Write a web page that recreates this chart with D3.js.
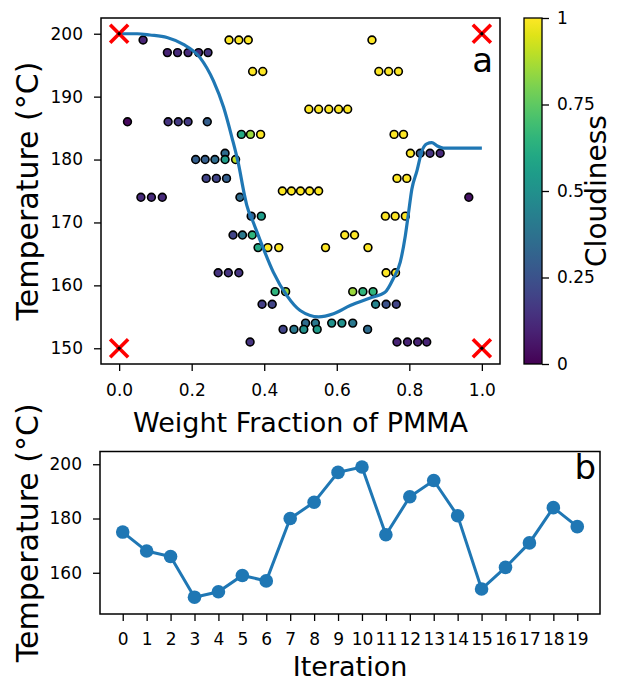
<!DOCTYPE html>
<html>
<head>
<meta charset="utf-8">
<script src="https://cdn.jsdelivr.net/npm/d3@7"></script>
<style>
  html, body { margin: 0; padding: 0; background: #fff; }
  svg { display: block; }
  text { font-family: "DejaVu Sans", sans-serif; fill: #000; }
</style>
</head>
<body>
<svg id="chart" width="634" height="681"></svg>
<script>
// ---------------- DATA ----------------
// Temperature tested at each iteration (panel b)
const iterations = d3.range(20);
const iterationTemp = [175,168,166,151,153,159,157,180,186,197,199,174,188,194,181,154,162,171,184,177];

// Sampled points (panel a): weight fraction, temperature, cloudiness
const pointWF = [
  0.066,0.303,0.330,0.356,0.697,
  0.133,0.161,0.190,0.219,0.245,
  0.368,0.396,0.716,0.743,0.770,
  0.523,0.550,0.578,0.605,0.630,
  0.023,0.135,0.163,0.190,0.243,
  0.337,0.362,0.390,0.758,0.784,
  0.292,0.803,0.830,0.857,0.885,
  0.211,0.237,0.264,0.292,0.321,
  0.240,0.268,0.296,0.766,0.793,
  0.450,0.475,0.500,0.525,0.550,
  0.060,0.089,0.119,0.333,0.964,
  0.364,0.392,0.734,0.761,0.789,
  0.314,0.340,0.367,0.622,0.649,
  0.383,0.410,0.440,0.569,0.686,
  0.273,0.301,0.330,0.736,0.762,
  0.430,0.459,0.644,0.672,0.700,
  0.394,0.422,0.707,0.736,0.764,
  0.514,0.541,0.586,0.614,0.644,
  0.452,0.482,0.509,0.546,0.685,
  0.361,0.766,0.795,0.823,0.848
];
const pointTemp = [
  199,199,199,199,199,
  197,197,197,197,197,
  194,194,194,194,194,
  188,188,188,188,188,
  186,186,186,186,186,
  184,184,184,184,184,
  181,181,181,181,181,
  180,180,180,180,180,
  177,177,177,177,177,
  175,175,175,175,175,
  174,174,174,174,174,
  171,171,171,171,171,
  168,168,168,168,168,
  166,166,166,166,166,
  162,162,162,162,162,
  159,159,159,159,159,
  157,157,157,157,157,
  154,154,154,154,154,
  153,153,153,153,153,
  151,151,151,151,151
];
const pointCloud = [
  0.10,1.00,1.00,1.00,1.00,
  0.10,0.12,0.12,0.12,0.15,
  1.00,1.00,1.00,1.00,1.00,
  1.00,1.00,1.00,1.00,1.00,
  0.02,0.15,0.17,0.17,0.30,
  0.60,0.85,1.00,1.00,1.00,
  0.35,1.00,0.30,0.15,0.12,
  0.30,0.30,0.35,0.55,0.90,
  0.20,0.20,0.30,1.00,1.00,
  1.00,1.00,1.00,1.00,1.00,
  0.12,0.12,0.12,0.35,0.05,
  0.30,0.55,1.00,1.00,1.00,
  0.20,0.40,0.65,1.00,1.00,
  0.60,1.00,1.00,1.00,1.00,
  0.15,0.15,0.15,1.00,1.00,
  0.65,0.85,0.85,0.65,0.65,
  0.18,0.20,0.45,0.25,0.20,
  0.35,0.40,0.50,0.50,0.40,
  0.20,0.40,0.50,0.55,0.35,
  0.15,0.10,0.10,0.10,0.10
];

// Corner (bound) points marked with red crosses
const cornerWF = [0, 1, 0, 1];
const cornerTemp = [200, 200, 150, 150];

// Fitted boundary curve
const curveWF = [0,0.05,0.085,0.132,0.177,0.223,0.260,0.288,0.311,0.329,0.345,0.352,0.370,0.398,0.425,0.462,0.499,0.550,0.591,0.637,0.692,0.733,0.756,0.775,0.789,0.798,0.807,0.821,0.835,0.848,0.862,0.876,0.894,0.931,1.0];
const curveTemp = [200,200,199.8,199.4,198.3,196.2,192.5,188.3,183.5,179.3,174.5,172.7,170.0,165.8,162.1,158.4,156.0,155.0,155.5,156.8,158.0,158.9,161.1,163.7,167.9,171.6,175.3,178.2,181.4,182.5,182.7,182.2,181.8,181.8,181.8];

// Tick labels
const xTicksA = [0,0.2,0.4,0.6,0.8,1.0];
const yTicksA = [150,160,170,180,190,200];
const cbTicks = [0,0.25,0.5,0.75,1];
const cbTickLabels = ["0","0.25","0.5","0.75","1"];
const yTicksB = [160,180,200];

// ---------------- DRAW ----------------
const svg = d3.select("#chart");
const blue = "#1f77b4";
const tickFont = 17, labelFont = 27, yLabelFont = 30;

// Panel a
const A = {l:101, r:500, t:18, b:364};
const xA = d3.scaleLinear().domain([-0.05,1.05]).range([A.l,A.r]);
const yA = d3.scaleLinear().domain([147.5,202.5]).range([A.b,A.t]);

const gA = svg.append("g");
gA.selectAll("circle.pt").data(pointWF.map((w,i)=>({w, t:pointTemp[i], c:pointCloud[i]})))
  .enter().append("circle").attr("class","pt")
  .attr("cx", d=>xA(d.w)).attr("cy", d=>yA(d.t)).attr("r", 3.9)
  .attr("fill", d=>d3.interpolateViridis(d.c))
  .attr("stroke","#000").attr("stroke-width",1.6);

const line = d3.line().x((d)=>xA(d[0])).y(d=>yA(d[1])).curve(d3.curveMonotoneX);
gA.append("path").datum(curveWF.map((w,i)=>[w,curveTemp[i]]))
  .attr("d", line).attr("fill","none").attr("stroke",blue).attr("stroke-width",3.2);

// corners
const cs = 9;
cornerWF.forEach((w,i)=>{
  const cx = xA(w), cy = yA(cornerTemp[i]);
  gA.append("circle").attr("cx",cx).attr("cy",cy).attr("r",2.4).attr("fill","#000");
  gA.append("path")
    .attr("d",`M${cx-cs},${cy-cs}L${cx+cs},${cy+cs}M${cx-cs},${cy+cs}L${cx+cs},${cy-cs}`)
    .attr("stroke","#ff0000").attr("stroke-width",3.6).attr("stroke-linecap","butt");
  gA.append("circle").attr("cx",cx).attr("cy",cy).attr("r",1.7).attr("fill","#000");
});

// frame
svg.append("rect").attr("x",A.l).attr("y",A.t).attr("width",A.r-A.l).attr("height",A.b-A.t)
  .attr("fill","none").attr("stroke","#000").attr("stroke-width",1.5);

function styleAxis(g){
  g.select(".domain").remove();
  g.selectAll(".tick line").attr("stroke","#000").attr("stroke-width",1.3);
  g.selectAll(".tick text").attr("font-size",tickFont).attr("font-family","DejaVu Sans").attr("fill","#000");
}
const axXA = svg.append("g").attr("transform",`translate(0,${A.b})`)
  .call(d3.axisBottom(xA).tickValues(xTicksA).tickFormat(d3.format(".1f")).tickSize(7).tickPadding(4));
styleAxis(axXA);
axXA.selectAll(".tick text").attr("dy",null).attr("y",32);
const axYA = svg.append("g").attr("transform",`translate(${A.l},0)`)
  .call(d3.axisLeft(yA).tickValues(yTicksA).tickSize(7).tickPadding(11));
styleAxis(axYA);

svg.append("text").attr("x",(A.l+A.r)/2).attr("y",432).attr("text-anchor","middle")
  .attr("font-size",labelFont).text("Weight Fraction of PMMA");
svg.append("text").attr("transform",`translate(38,${(A.t+A.b)/2}) rotate(-90)`)
  .attr("text-anchor","middle").attr("font-size",yLabelFont).text("Temperature (°C)");
svg.append("text").attr("x",493).attr("y",72).attr("text-anchor","end")
  .attr("font-size",34).text("a");

// Colorbar
const CB = {l:524, r:542, t:A.t, b:A.b};
const cbScale = d3.scaleLinear().domain([0,1]).range([CB.b,CB.t]);
const defs = svg.append("defs");
const grad = defs.append("linearGradient").attr("id","vir").attr("x1",0).attr("y1",1).attr("x2",0).attr("y2",0);
d3.range(0,1.0001,0.05).forEach(s=>{
  grad.append("stop").attr("offset",s).attr("stop-color",d3.interpolateViridis(s));
});
svg.append("rect").attr("x",CB.l).attr("y",CB.t).attr("width",CB.r-CB.l).attr("height",CB.b-CB.t)
  .attr("fill","url(#vir)").attr("stroke","#000").attr("stroke-width",1.3);
const axCB = svg.append("g").attr("transform",`translate(${CB.r},0)`)
  .call(d3.axisRight(cbScale).tickValues(cbTicks).tickFormat((d,i)=>cbTickLabels[i]).tickSize(7).tickPadding(8));
styleAxis(axCB);
svg.append("text").attr("transform",`translate(606,${(CB.t+CB.b)/2}) rotate(-90)`)
  .attr("text-anchor","middle").attr("font-size",28).text("Cloudiness");

// Panel b
const B = {l:100, r:600, t:451.5, b:614};
const xB = d3.scaleLinear().domain([-0.95,19.95]).range([B.l,B.r]);
const yB = d3.scaleLinear().domain([144.8,204.7]).range([B.b,B.t]);
const gB = svg.append("g");
gB.append("path").datum(iterations.map((it,i)=>[it,iterationTemp[i]]))
  .attr("d", d3.line().x(d=>xB(d[0])).y(d=>yB(d[1])))
  .attr("fill","none").attr("stroke",blue).attr("stroke-width",3);
gB.selectAll("circle").data(iterations.map((it,i)=>[it,iterationTemp[i]])).enter()
  .append("circle").attr("cx",d=>xB(d[0])).attr("cy",d=>yB(d[1])).attr("r",6.8).attr("fill",blue);
svg.append("rect").attr("x",B.l).attr("y",B.t).attr("width",B.r-B.l).attr("height",B.b-B.t)
  .attr("fill","none").attr("stroke","#000").attr("stroke-width",1.5);
const axXB = svg.append("g").attr("transform",`translate(0,${B.b})`)
  .call(d3.axisBottom(xB).tickValues(iterations).tickFormat(d3.format("d")).tickSize(7).tickPadding(4));
styleAxis(axXB);
axXB.selectAll(".tick text").attr("dy",null).attr("y",31);
const axYB = svg.append("g").attr("transform",`translate(${B.l},0)`)
  .call(d3.axisLeft(yB).tickValues(yTicksB).tickSize(7).tickPadding(11));
styleAxis(axYB);

svg.append("text").attr("x",(B.l+B.r)/2).attr("y",676).attr("text-anchor","middle")
  .attr("font-size",labelFont).text("Iteration");
svg.append("text").attr("transform",`translate(38,${(B.t+B.b)/2}) rotate(-90)`)
  .attr("text-anchor","middle").attr("font-size",yLabelFont).text("Temperature (°C)");
svg.append("text").attr("x",596).attr("y",479).attr("text-anchor","end")
  .attr("font-size",34).text("b");
</script>
</body>
</html>
